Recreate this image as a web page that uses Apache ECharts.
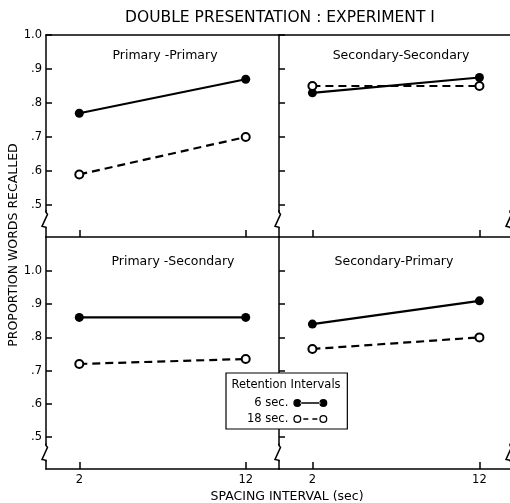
<!DOCTYPE html>
<html>
<head>
<meta charset="utf-8">
<script src="https://cdn.jsdelivr.net/npm/echarts@6/dist/echarts.min.js"></script>
<style>html,body{margin:0;padding:0;background:#fff}#c{width:510px;height:503px}</style>
</head>
<body>
<div id="c"></div>
<script>
// ---- data ----
const spacing = [2, 12];                 // spacing interval (sec)
const xTicks = [2, 12];
const yTicks = [0.5, 0.6, 0.7, 0.8, 0.9, 1.0];
const panelTitles = ['Primary -Primary', 'Secondary-Secondary', 'Primary -Secondary', 'Secondary-Primary'];
const ret6 = [[0.77, 0.87], [0.83, 0.875], [0.86, 0.86], [0.84, 0.91]];     // 6 sec retention
const ret18 = [[0.59, 0.70], [0.85, 0.85], [0.72, 0.735], [0.765, 0.80]];   // 18 sec retention
const seriesNames = ['6 sec.', '18 sec.'];
const breakY = [0.458, 0.458, 0.454, 0.454];  // axis-break marks

const FONT = 'DejaVu Sans';
const grids = [
  {left: 46, top: 35, width: 233, height: 202},
  {left: 279, top: 35, width: 231, height: 202},
  {left: 46, top: 237, width: 233, height: 232},
  {left: 279, top: 237, width: 231, height: 232}
];
const xMax = [14, 13.83, 14, 13.83];
const yRanges = [[0.406, 1.0], [0.406, 1.0], [0.404, 1.102], [0.404, 1.102]];

const fmtY = v => v >= 0.999 ? '1.0' : '.' + Math.round(v * 10);
const AXL = {show: true, lineStyle: {color: '#000', width: 1.5}};

const xAxis = grids.map((g, i) => ({
  type: 'value', gridIndex: i, min: 0, max: xMax[i],
  axisLine: AXL, splitLine: {show: false},
  axisTick: {show: true, inside: true, length: 7, customValues: xTicks, lineStyle: {color: '#000', width: 1.5}},
  axisLabel: {show: i >= 2, customValues: xTicks, color: '#000', fontFamily: FONT, fontSize: 11.5, margin: 5},
  name: i === 2 ? 'SPACING INTERVAL (sec)' : '',
  nameLocation: 'end', nameGap: 8,
  nameTextStyle: {color: '#000', fontFamily: FONT, fontSize: 12.5, align: 'center', verticalAlign: 'top', padding: [21, 0, 0, 0]}
}));
// top borders of upper panels
[0, 1].forEach(i => xAxis.push({
  type: 'value', gridIndex: i, position: 'top', min: 0, max: xMax[i],
  axisLine: AXL, axisTick: {show: false}, axisLabel: {show: false}, splitLine: {show: false}
}));
const yAxis = grids.map((g, i) => ({
  type: 'value', gridIndex: i, min: yRanges[i][0], max: yRanges[i][1],
  axisLine: AXL, splitLine: {show: false},
  axisTick: {show: true, inside: true, length: 6, customValues: yTicks, lineStyle: {color: '#000', width: 1.5}},
  axisLabel: {show: i % 2 === 0, customValues: yTicks, formatter: fmtY, color: '#000', fontFamily: FONT, fontSize: 11.5, margin: 4}
}));

const series = [];
grids.forEach((g, i) => {
  series.push({
    name: seriesNames[0], type: 'line', xAxisIndex: i, yAxisIndex: i,
    data: spacing.map((x, k) => [x, ret6[i][k]]),
    symbol: 'circle', symbolSize: 9, color: '#000',
    lineStyle: {color: '#000', width: 2.2}, itemStyle: {color: '#000'}
  });
  series.push({
    name: seriesNames[1], type: 'line', xAxisIndex: i, yAxisIndex: i,
    data: spacing.map((x, k) => [x, ret18[i][k]]),
    symbol: 'emptyCircle', symbolSize: 8, color: '#000',
    lineStyle: {color: '#000', width: 2.2, type: [8, 5]},
    itemStyle: {color: '#000', borderColor: '#000', borderWidth: 1.5}
  });
  const zig = (xv) => ({
    type: 'custom', xAxisIndex: i, yAxisIndex: i, clip: false, silent: true, z: 3,
    data: [[xv, breakY[i]]],
    renderItem: (params, api) => {
      const p = api.coord([api.value(0), api.value(1)]);
      const x = p[0], y = p[1];
      return {type: 'group', children: [
        {type: 'rect', shape: {x: x - 2, y: y - 7, width: 4, height: 15}, style: {fill: '#fff'}},
        {type: 'polyline', shape: {points: [[x, y - 9], [x, y - 7], [x + 1.5, y - 5], [x - 4, y + 7], [x, y + 8], [x, y + 9]]},
         style: {stroke: '#000', lineWidth: 1.5, fill: null}}
      ]};
    }
  });
  series.push(zig(0));
  if (i % 2 === 1) series.push(zig(xMax[i]));
});

const titleCenters = [[160, 44], [396, 44], [168, 250], [389, 250]];
const titles = [{
  text: 'DOUBLE PRESENTATION : EXPERIMENT I', left: 275, top: 5, textAlign: 'center',
  textStyle: {color: '#000', fontFamily: FONT, fontSize: 15.5, fontWeight: 'normal'}
}].concat(panelTitles.map((t, i) => ({
  text: t, left: titleCenters[i][0], top: titleCenters[i][1], textAlign: 'center',
  textStyle: {color: '#000', fontFamily: FONT, fontSize: 12.5, fontWeight: 'normal'}
})));

const ringPath = 'M0,4a4,4 0 1,0 8,0a4,4 0 1,0 -8,0zM1.3,4a2.7,2.7 0 1,1 5.4,0a2.7,2.7 0 1,1 -5.4,0z';
const icon6 = 'path://M0,4a4,4 0 1,0 8,0a4,4 0 1,0 -8,0zM7,3.2h20v1.6h-20zM26,4a4,4 0 1,0 8,0a4,4 0 1,0 -8,0z';
const icon18 = 'path://' + ringPath + 'M10,3.2h5v1.6h-5zM19,3.2h5v1.6h-5z' +
  'M26,4a4,4 0 1,0 8,0a4,4 0 1,0 -8,0zM27.3,4a2.7,2.7 0 1,1 5.4,0a2.7,2.7 0 1,1 -5.4,0z';

const option = {
  animation: false,
  backgroundColor: '#fff',
  title: titles,
  grid: grids.map(g => Object.assign({show: false}, g)),
  xAxis, yAxis, series,
  legend: {
    orient: 'vertical', left: 226, top: 373, align: 'right',
    padding: [24, 20, 4, 21], itemGap: 4, itemWidth: 34, itemHeight: 8,
    backgroundColor: '#fff', borderColor: '#000', borderWidth: 1.2, borderRadius: 0,
    textStyle: {color: '#000', fontFamily: FONT, fontSize: 11.5, width: 44, align: 'right'},
    data: [
      {name: seriesNames[0], icon: icon6, itemStyle: {color: '#000', borderWidth: 0}},
      {name: seriesNames[1], icon: icon18, itemStyle: {color: '#000', borderWidth: 0}}
    ],
    selectedMode: false
  },
  graphic: [
    {type: 'text', z: 100, x: 286, y: 385,
     style: {text: 'Retention Intervals', fill: '#000', font: '11.5px "DejaVu Sans"', align: 'center', verticalAlign: 'middle'}},
    {type: 'text', z: 100, x: 14, y: 245, rotation: Math.PI / 2,
     style: {text: 'PROPORTION WORDS RECALLED', fill: '#000', font: '12.5px "DejaVu Sans"', align: 'center', verticalAlign: 'middle'}}
  ]
};
const chart = echarts.init(document.getElementById('c'));
chart.setOption(option);
</script>
</body>
</html>
